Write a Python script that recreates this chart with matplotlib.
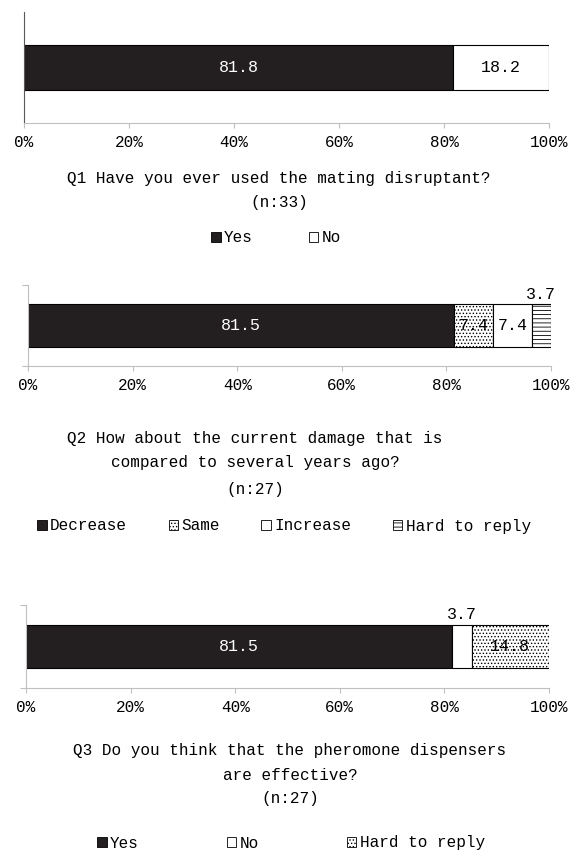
import matplotlib
matplotlib.use('Agg')
import matplotlib.pyplot as plt
from matplotlib.patches import Patch

# survey answers (percent of respondents)
q1_labels = ["Yes", "No"]
q1_values = [81.8, 18.2]
q1_title = ["Q1 Have you ever used the mating disruptant?", "(n:33)"]

q2_labels = ["Decrease", "Same", "Increase", "Hard to reply"]
q2_values = [81.5, 7.4, 7.4, 3.7]
q2_title = ["Q2 How about the current damage that is",
            "compared to several years ago?", "(n:27)"]

q3_labels = ["Yes", "No", "Hard to reply"]
q3_values = [81.5, 3.7, 14.8]
q3_title = ["Q3 Do you think that the pheromone dispensers",
            "are effective?", "(n:27)"]

tick_values = [0, 20, 40, 60, 80, 100]
tick_labels = ["0%", "20%", "40%", "60%", "80%", "100%"]

# segment looks: (facecolor, hatch)
DARK = '#231f20'
SOLID = (DARK, '')
BLANK = ('white', '')
DOTS = ('white', '.....')
LINES = ('white', '----')

W, H = 579, 851
TXT = 11.5
TICK = 11.5
VAL = 12

plt.rcParams['font.family'] = ['Liberation Mono', 'DejaVu Sans']
plt.rcParams['hatch.linewidth'] = 0.6

fig = plt.figure(figsize=(W / 100, H / 100), dpi=100)


def px_rect(left, right, top, bottom):
    return [left / W, 1 - bottom / H, (right - left) / W, (bottom - top) / H]


def draw_panel(rect, values, labels, looks, bar_h, title, title_x, title_ys,
               leg_x, leg_y, colspace, dark_left=False, yticks=True):
    ax = fig.add_axes(rect)
    left = 0
    for v, (fc, hatch) in zip(values, looks):
        ax.barh(0, v, left=left, height=bar_h, color=fc, hatch=hatch,
                edgecolor='black', linewidth=0.8)
        mid = left + v / 2
        txt = f"{v:.1f}"
        # thin segments get their value above the bar
        if v < 5:
            ax.text(mid, bar_h / 2 + 0.03, txt, ha='center', va='bottom',
                    fontsize=VAL, color='black')
        else:
            ax.text(mid, 0, txt, ha='center', va='center', fontsize=VAL,
                    color='white' if fc == DARK else 'black')
        left += v

    ax.set_xlim(0, 100)
    ax.set_ylim(-0.5, 0.5)
    ax.set_xticks(tick_values)
    ax.set_xticklabels(tick_labels, fontsize=TICK)
    ax.tick_params(axis='x', direction='out', length=3.5, width=0.8,
                   color='#bfbfbf', pad=5)
    if yticks:
        ax.set_yticks([-0.5, 0.5])
        ax.set_yticklabels([])
        ax.tick_params(axis='y', direction='out', length=4, width=0.8,
                       color='#bfbfbf')
    else:
        ax.set_yticks([])
    for s in ['top', 'right']:
        ax.spines[s].set_visible(False)
    ax.spines['bottom'].set_color('#bfbfbf')
    ax.spines['left'].set_color('#595959' if dark_left else '#bfbfbf')
    ax.spines['bottom'].set_linewidth(0.8)
    ax.spines['left'].set_linewidth(0.8)
    ax.set_facecolor('none')

    for line, y in zip(title, title_ys):
        fig.text(title_x / W, 1 - y / H, line, ha='center', va='center',
                 fontsize=TXT)

    handles = [Patch(facecolor=fc, hatch=h, edgecolor='black', linewidth=0.6)
               for fc, h in looks]
    fig.legend(handles, labels, loc='center',
               bbox_to_anchor=(leg_x / W, 1 - leg_y / H),
               ncol=len(labels), frameon=False, fontsize=TXT,
               handlelength=0.6, handleheight=0.6, handletextpad=0.2,
               columnspacing=colspace, borderpad=0, borderaxespad=0)


draw_panel(px_rect(24, 549, 12, 123), q1_values, q1_labels, [SOLID, BLANK],
           0.41, q1_title, 279, [178, 203], 276, 238, 3.5,
           dark_left=True, yticks=False)
draw_panel(px_rect(28, 551, 285, 366), q2_values, q2_labels,
           [SOLID, DOTS, BLANK, LINES], 0.52, q2_title, 255, [438, 463, 489],
           284, 526, 2.6)
draw_panel(px_rect(26, 549, 605, 688), q3_values, q3_labels,
           [SOLID, BLANK, DOTS], 0.53, q3_title, 290, [750, 775, 799],
           291, 843, 5.5)

fig.savefig('out.png', dpi=100)
